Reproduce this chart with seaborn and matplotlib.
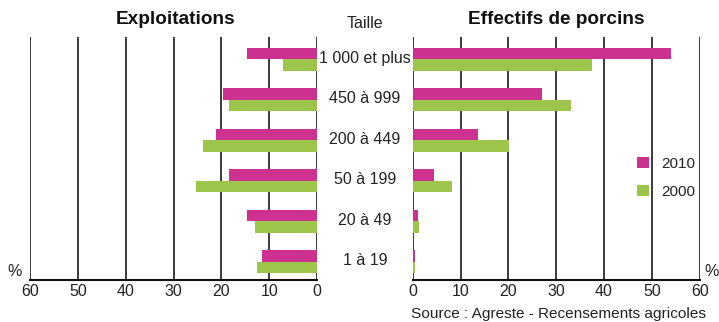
import matplotlib
matplotlib.use("Agg")
import matplotlib.pyplot as plt
import matplotlib.transforms as mtrans
import seaborn as sns
import pandas as pd

categories = ["1 000 et plus", "450 à 999", "200 à 449", "50 à 199", "20 à 49", "1 à 19"]
years = ["2010", "2000"]
exploitations_2010 = [14.6, 19.6, 21.2, 18.5, 14.6, 11.6]
exploitations_2000 = [7.2, 18.5, 23.8, 25.2, 12.9, 12.5]
porcins_2010 = [54.1, 27.0, 13.6, 4.5, 1.1, 0.5]
porcins_2000 = [37.4, 33.1, 20.2, 8.2, 1.3, 0.5]
x_ticks = [0, 10, 20, 30, 40, 50, 60]

colors = {"2010": "#CC3190", "2000": "#9DC54B"}

sns.set_theme(style="white")
plt.rcParams["font.family"] = ["Liberation Sans", "DejaVu Sans"]

def make_df(v2010, v2000):
    return pd.DataFrame({
        "Taille": categories * 2,
        "Année": ["2010"] * len(categories) + ["2000"] * len(categories),
        "Valeur": list(v2010) + list(v2000),
    })

df_l = make_df(exploitations_2010, exploitations_2000)
df_r = make_df(porcins_2010, porcins_2000)

fig = plt.figure(figsize=(7.19, 3.22), dpi=100)
W, H = 719, 322
ax_l = fig.add_axes([30 / W, (322 - 280) / H, 287 / W, 243 / H])
ax_r = fig.add_axes([412.7 / W, (322 - 280) / H, 287 / W, 243 / H])

for ax, df in ((ax_l, df_l), (ax_r, df_r)):
    sns.barplot(data=df, x="Valeur", y="Taille", hue="Année", order=categories,
                hue_order=years, palette=colors, orient="h", width=0.57,
                saturation=1, linewidth=0, ax=ax, legend=(ax is ax_r), zorder=3)
    ax.set_xlim(0, 60)
    ax.set_ylim(5.45, -0.55)
    ax.set_xticks(x_ticks)
    ax.set_xticklabels([str(t) for t in x_ticks], fontsize=11.5, color="#222222")
    ax.set_yticks([])
    ax.set_xlabel("")
    ax.set_ylabel("")
    for s in ("top", "left", "right"):
        ax.spines[s].set_visible(False)
    ax.spines["bottom"].set_color("#111111")
    ax.spines["bottom"].set_linewidth(1.5)
    ax.tick_params(axis="x", length=0, pad=3)
    for t in x_ticks:
        ax.axvline(t, color="#1a1a1a", lw=1.2, zorder=1)
    ax.set_facecolor("white")

ax_l.set_xlim(60, 0)

leg = ax_r.legend(loc="center left", bbox_to_anchor=(0.735, 0.42), frameon=False,
                  fontsize=11, handlelength=0.75, handleheight=0.75,
                  handletextpad=0.8, labelspacing=0.95)
for txt in leg.get_texts():
    txt.set_color("#222222")

# Category labels in the middle
blend = mtrans.blended_transform_factory(fig.transFigure, ax_r.transData)
for i, c in enumerate(categories):
    fig.text(365 / W, i - 0.03, c, transform=blend, ha="center", va="center",
             fontsize=11.5, color="#222222")

fig.text(365 / W, 1 - 23 / H, "Taille", ha="center", va="center", fontsize=11.5, color="#222222")
fig.text(176 / W, 1 - 20 / H, "Exploitations", ha="center", va="center",
         fontsize=13.7, fontweight="bold", color="#111111")
fig.text(556 / W, 1 - 20 / H, "Effectifs de porcins", ha="center", va="center",
         fontsize=13.7, fontweight="bold", color="#111111")
fig.text(15 / W, 1 - 271 / H, "%", ha="center", va="center", fontsize=11.5, color="#222222")
fig.text(712 / W, 1 - 271 / H, "%", ha="center", va="center", fontsize=11.5, color="#222222")
fig.text(706 / W, 1 - 314 / H, "Source : Agreste - Recensements agricoles", ha="right",
         va="center", fontsize=11.1, color="#222222")

fig.savefig("out.png", dpi=100, facecolor="white")
